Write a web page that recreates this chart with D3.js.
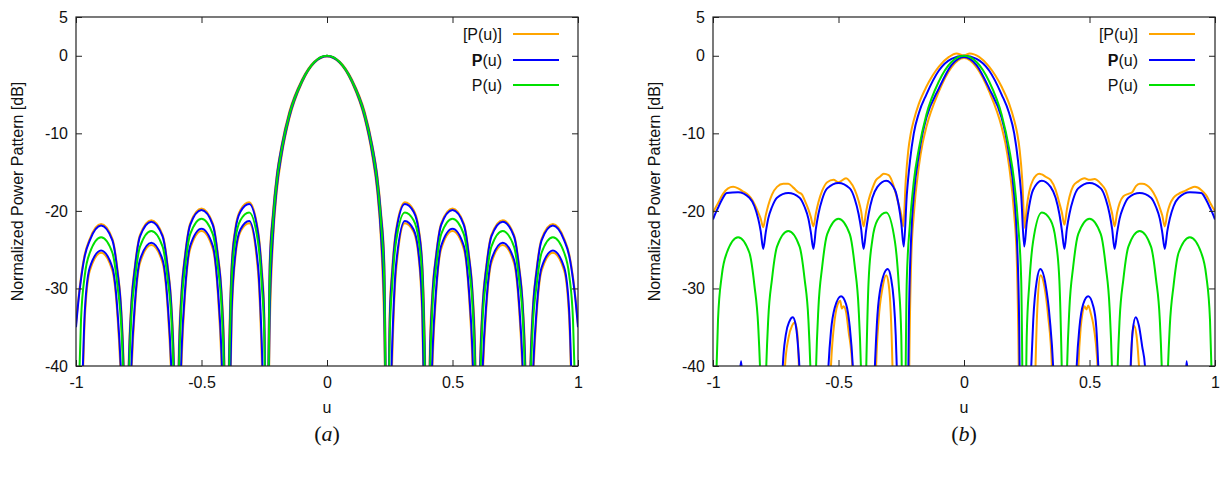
<!DOCTYPE html>
<html>
<head>
<meta charset="utf-8">
<script src="https://cdn.jsdelivr.net/npm/d3@7"></script>
<style>
body { margin: 0; background: #fff; }
svg { display: block; font-family: "Liberation Sans", Arial, sans-serif; }
</style>
</head>
<body>
<svg id="chart" width="1223" height="484"></svg>
<script>
// shared u grid (rows: lobe -0.9, -0.7, -0.5, -0.3, main, 0.3, 0.5, 0.7, 0.9)
var uGrid = [
    -1, -0.99, -0.98, -0.965, -0.945, -0.9, -0.855, -0.835, -0.82, -0.81,
    -0.8, -0.79, -0.78, -0.765, -0.745, -0.7, -0.655, -0.635, -0.62, -0.61,
    -0.6, -0.59, -0.58, -0.565, -0.545, -0.5, -0.455, -0.435, -0.42, -0.41,
    -0.4, -0.39, -0.38, -0.365, -0.345, -0.31, -0.275, -0.26, -0.25,
    -0.24, -0.228, -0.215, -0.2, -0.18, -0.15, -0.1, -0.05, 0, 0.05, 0.1, 0.15, 0.18, 0.2, 0.215, 0.228, 0.24,
    0.25, 0.26, 0.275, 0.31, 0.345, 0.365, 0.38, 0.39,
    0.4, 0.41, 0.42, 0.435, 0.455, 0.5, 0.545, 0.565, 0.58, 0.59,
    0.6, 0.61, 0.62, 0.635, 0.655, 0.7, 0.745, 0.765, 0.78, 0.79,
    0.8, 0.81, 0.82, 0.835, 0.855, 0.9, 0.945, 0.965, 0.98, 0.99, 1
];

// panel (a)
var orangeUpA = [
    -34.6, -31.2, -28.5, -25.6, -23.6, -21.7, -23.6, -27.5, -32.5, -40,
    -60, -39.5, -32, -27, -23.1, -21.2, -23.1, -27, -32, -39.5,
    -60, -37.5, -30.4, -25.5, -21.6, -19.7, -21.6, -25.5, -30.4, -37.5,
    -60, -37.5, -27, -22.2, -19.9, -18.9, -22.5, -27.4, -33,
    -55, -26.3, -20.1, -15.3, -11.4, -7.2, -3.1, -0.75, 0, -0.75, -3.1, -7.2, -11.4, -15.3, -20.1, -26.3, -55,
    -33, -27.4, -22.5, -18.9, -19.9, -22.2, -27, -37.5,
    -60, -37.5, -30.4, -25.5, -21.6, -19.7, -21.6, -25.5, -30.4, -37.5,
    -60, -39.5, -32, -27, -23.1, -21.2, -23.1, -27, -32, -39.5,
    -60, -40, -32.5, -27.5, -23.6, -21.7, -23.6, -25.6, -28.5, -31.2, -34.6
];
var blueUpA = [
    -35, -31.5, -28.8, -25.8, -23.8, -21.9, -23.8, -27.8, -33, -41,
    -60, -40.5, -32.5, -27.3, -23.3, -21.4, -23.3, -27.3, -32.5, -40.5,
    -60, -39, -31, -25.8, -21.8, -19.9, -21.8, -25.8, -31, -39,
    -60, -39, -27.5, -22.5, -20.1, -19.1, -22.8, -28, -34,
    -55, -27, -20.5, -15.6, -11.6, -7.4, -3.2, -0.8, 0, -0.8, -3.2, -7.4, -11.6, -15.6, -20.5, -27, -55,
    -34, -28, -22.8, -19.1, -20.1, -22.5, -27.5, -39,
    -60, -39, -31, -25.8, -21.8, -19.9, -21.8, -25.8, -31, -39,
    -60, -40.5, -32.5, -27.3, -23.3, -21.4, -23.3, -27.3, -32.5, -40.5,
    -60, -41, -33, -27.8, -23.8, -21.9, -23.8, -25.8, -28.8, -31.5, -35
];
var blueLowA = [
    -60, -55, -48, -33, -27.3, -25.1, -27.3, -32.8, -41.5, -53,
    -60, -52, -40.5, -31.8, -26.3, -24.1, -26.3, -31.8, -40.5, -52,
    -60, -50, -38.5, -30, -24.5, -22.3, -24.5, -30, -38.5, -50,
    -60, -50, -33, -25.5, -22.4, -21.3, -27, -37, -48,
    -60, -33, -23, -17, -12.5, -7.9, -3.4, -0.85, -0.05, -0.85, -3.4, -7.9, -12.5, -17, -23, -33, -60,
    -48, -37, -27, -21.3, -22.4, -25.5, -33, -50,
    -60, -50, -38.5, -30, -24.5, -22.3, -24.5, -30, -38.5, -50,
    -60, -52, -40.5, -31.8, -26.3, -24.1, -26.3, -31.8, -40.5, -52,
    -60, -53, -41.5, -32.8, -27.3, -25.1, -27.3, -33, -48, -55, -60
];
var orangeLowA = [
    -60, -57, -50, -34, -27.7, -25.4, -27.7, -33.5, -43, -55,
    -60, -54, -42, -32.5, -26.7, -24.4, -26.7, -32.5, -42, -54,
    -60, -52, -40, -30.6, -24.9, -22.6, -24.9, -30.6, -40, -52,
    -60, -52, -34.5, -26, -22.7, -21.6, -27.8, -39, -52,
    -60, -35, -23.8, -17.5, -12.8, -8.1, -3.5, -0.9, -0.1, -0.9, -3.5, -8.1, -12.8, -17.5, -23.8, -35, -60,
    -52, -39, -27.8, -21.6, -22.7, -26, -34.5, -52,
    -60, -52, -40, -30.6, -24.9, -22.6, -24.9, -30.6, -40, -52,
    -60, -54, -42, -32.5, -26.7, -24.4, -26.7, -32.5, -42, -54,
    -60, -55, -43, -33.5, -27.7, -25.4, -27.7, -34, -50, -57, -60
];
// nominal pattern, same in both panels
var greenNom = [
    -55, -45, -34, -28.3, -25.4, -23.4, -25.4, -29.6, -34.8, -43,
    -60, -42.5, -34, -28.8, -24.6, -22.6, -24.6, -28.8, -34, -42.5,
    -60, -41, -32.5, -27.2, -23, -21, -23, -27.2, -32.5, -41,
    -60, -41, -29, -23.7, -21.2, -20.2, -24, -29.5, -36,
    -60, -29, -21.5, -16.2, -12, -7.6, -3.3, -0.8, 0, -0.8, -3.3, -7.6, -12, -16.2, -21.5, -29, -60,
    -36, -29.5, -24, -20.2, -21.2, -23.7, -29, -41,
    -60, -41, -32.5, -27.2, -23, -21, -23, -27.2, -32.5, -41,
    -60, -42.5, -34, -28.8, -24.6, -22.6, -24.6, -28.8, -34, -42.5,
    -60, -43, -34.8, -29.6, -25.4, -23.4, -25.4, -28.3, -34, -45, -55
];

// panel (b)
var blueUpB = [
    -21.1, -20.3, -19.6, -18.6, -17.7, -17.6, -18.3, -19.4, -21, -22.6,
    -24.9, -22.8, -21, -19.5, -18.3, -17.7, -18.3, -19.5, -21, -22.8,
    -24.9, -22.3, -20.4, -18.5, -17.1, -16.4, -17.1, -18.5, -20.4, -22.3,
    -24.9, -22.5, -20.4, -18.3, -16.9, -16.1, -17.3, -19.3, -21.5,
    -24.6, -18, -13.5, -10, -7.4, -5, -1.9, -0.4, 0, -0.4, -1.9, -5, -7.4, -10, -13.5, -18, -24.6,
    -21.5, -19.3, -17.3, -16.1, -16.9, -18.3, -20.4, -22.5,
    -24.9, -22.3, -20.4, -18.5, -17.1, -16.4, -17.1, -18.5, -20.4, -22.3,
    -24.9, -22.8, -21, -19.5, -18.3, -17.7, -18.3, -19.5, -21, -22.8,
    -24.9, -22.6, -21, -19.4, -18.3, -17.6, -17.7, -18.6, -19.6, -20.3, -21.1
];
var orangeUpB = [
    [-1, -20.2], [-0.98, -19], [-0.96, -17.8], [-0.94, -17.1], [-0.92, -16.9], [-0.9, -17.1], [-0.88, -17.5],
    [-0.865, -17.8], [-0.85, -18.3], [-0.835, -19.1], [-0.82, -20.2], [-0.81, -21], [-0.8, -22.1],
    [-0.79, -20.6], [-0.78, -19.3], [-0.765, -17.9], [-0.745, -16.9], [-0.72, -16.5], [-0.7, -16.5], [-0.68, -17],
    [-0.66, -17.6], [-0.645, -17.9], [-0.635, -18.6], [-0.62, -19.8], [-0.61, -20.8], [-0.6, -22],
    [-0.59, -20.3], [-0.58, -18.9], [-0.565, -17.4], [-0.545, -16.3], [-0.52, -16], [-0.5, -16.3], [-0.47, -15.8],
    [-0.455, -16.2], [-0.435, -17.3], [-0.42, -18.7], [-0.41, -20], [-0.4, -22],
    [-0.39, -20.1], [-0.38, -18.6], [-0.365, -17.1], [-0.35, -16], [-0.335, -15.6], [-0.32, -15.2], [-0.3, -15.4],
    [-0.28, -16.8], [-0.265, -18.6], [-0.25, -20.5], [-0.242, -22],
    [-0.232, -16], [-0.222, -12.2], [-0.212, -10], [-0.2, -8.3], [-0.18, -6.2], [-0.15, -4], [-0.1, -1.4],
    [-0.06, -0.15], [-0.03, 0.3], [0, 0.05], [0.023, 0.3], [0.06, -0.15], [0.1, -1.4], [0.15, -4], [0.18, -6.2],
    [0.2, -8.3], [0.212, -10], [0.222, -12.2], [0.232, -16], [0.242, -22.2],
    [0.25, -19.5], [0.26, -17.5], [0.275, -16], [0.3, -15.2], [0.31, -15.3], [0.325, -15.6], [0.345, -16],
    [0.365, -17.3], [0.38, -19], [0.39, -20.2], [0.4, -21.8],
    [0.41, -19.8], [0.42, -18.2], [0.435, -16.8], [0.455, -16.2], [0.48, -15.8], [0.5, -16], [0.52, -15.9],
    [0.545, -16.5], [0.565, -17.4], [0.58, -19], [0.59, -20.3], [0.6, -22],
    [0.61, -20.2], [0.62, -19], [0.635, -18.1], [0.655, -17.8], [0.67, -17.6], [0.685, -16.8], [0.7, -16.5],
    [0.71, -16.5], [0.745, -17.2], [0.765, -18.3], [0.78, -19.6], [0.79, -20.6], [0.8, -22],
    [0.81, -20.3], [0.82, -19.2], [0.835, -18.3], [0.855, -17.8], [0.875, -17.5], [0.9, -17.1], [0.92, -16.9],
    [0.945, -17.3], [0.965, -18], [0.98, -18.9], [0.99, -19.5], [1, -20]
];
var blueLowB = [
    [-1, -60], [-0.9, -55], [-0.895, -42], [-0.888, -39.4], [-0.882, -42], [-0.86, -55],
    [-0.74, -55], [-0.728, -46], [-0.722, -40], [-0.71, -36], [-0.695, -34.2], [-0.682, -33.7], [-0.67, -34.8],
    [-0.66, -38], [-0.656, -40], [-0.65, -46], [-0.62, -55],
    [-0.56, -55], [-0.548, -46], [-0.54, -40], [-0.53, -35.5], [-0.515, -32.5], [-0.49, -31], [-0.47, -32],
    [-0.455, -35], [-0.443, -40], [-0.435, -46], [-0.41, -55],
    [-0.375, -55], [-0.362, -46], [-0.355, -40], [-0.345, -33.5], [-0.33, -29.5], [-0.304, -27.5], [-0.29, -28.8],
    [-0.28, -31.5], [-0.272, -36], [-0.268, -40], [-0.262, -46], [-0.25, -55],
    [-0.225, -50], [-0.22, -35], [-0.21, -23], [-0.2, -18], [-0.18, -12.8], [-0.165, -10], [-0.15, -8], [-0.1, -4.2],
    [-0.05, -1.2], [0, -0.15], [0.05, -1.2], [0.1, -4.2], [0.15, -8], [0.165, -10], [0.18, -12.8], [0.2, -18],
    [0.21, -23], [0.22, -35], [0.225, -50],
    [0.25, -55], [0.262, -46], [0.268, -40], [0.276, -34], [0.29, -29], [0.304, -27.5], [0.325, -29.5],
    [0.342, -34], [0.355, -40], [0.362, -46], [0.375, -55],
    [0.42, -55], [0.442, -46], [0.449, -40], [0.46, -35], [0.475, -32], [0.495, -31], [0.515, -32.3],
    [0.527, -35], [0.535, -40], [0.542, -46], [0.56, -55],
    [0.64, -55], [0.658, -46], [0.664, -40], [0.672, -35.5], [0.684, -33.7], [0.697, -34.8], [0.71, -37.5],
    [0.721, -40], [0.728, -46], [0.74, -55],
    [0.86, -55], [0.882, -42], [0.887, -39.4], [0.893, -42], [0.9, -55], [1, -60]
];
var orangeLowB = [
    [-1, -60], [-0.74, -60], [-0.72, -48], [-0.713, -40], [-0.7, -36.5], [-0.685, -34.8], [-0.675, -34.4],
    [-0.665, -35.5], [-0.658, -40], [-0.652, -48], [-0.63, -60],
    [-0.56, -60], [-0.538, -47], [-0.53, -40], [-0.515, -34], [-0.5, -31.8], [-0.493, -31.6], [-0.487, -32.6],
    [-0.48, -32.3], [-0.47, -33], [-0.46, -35.5], [-0.445, -40], [-0.438, -47], [-0.41, -60],
    [-0.37, -60], [-0.355, -47], [-0.35, -40], [-0.34, -34], [-0.325, -30], [-0.31, -28.3], [-0.3, -29.5],
    [-0.292, -33], [-0.285, -40], [-0.28, -48], [-0.26, -60],
    [-0.222, -55], [-0.218, -40], [-0.21, -26], [-0.2, -20.5], [-0.18, -14.3], [-0.165, -11.3], [-0.15, -9.2],
    [-0.1, -4.6], [-0.05, -1.5], [0, -0.3], [0.05, -1.5], [0.1, -4.6], [0.15, -9.2], [0.165, -11.3],
    [0.18, -14.3], [0.2, -20.5], [0.21, -26], [0.218, -40], [0.222, -55],
    [0.26, -60], [0.28, -48], [0.285, -40], [0.293, -32], [0.305, -28.3], [0.32, -29.7], [0.335, -33.5],
    [0.35, -40], [0.356, -47], [0.37, -60],
    [0.43, -60], [0.45, -47], [0.456, -40], [0.465, -35], [0.472, -33.2], [0.48, -32.3], [0.488, -32.7],
    [0.495, -32.2], [0.505, -33.2], [0.515, -34.6], [0.525, -37], [0.532, -40], [0.54, -47], [0.56, -60],
    [0.64, -60], [0.66, -47], [0.665, -40], [0.672, -35.5], [0.678, -34.8], [0.687, -36], [0.695, -39],
    [0.7, -42], [0.71, -60], [1, -60]
];

var xTicks = [-1, -0.5, 0, 0.5, 1];
var yTicks = [5, 0, -10, -20, -30, -40];
var legendLabels = ["[P(u)]", "P(u)", "P(u)"];

var ORANGE = "#ffa500", BLUE = "#0000ff", GREEN = "#00e000";

function onGrid(values) {
    return uGrid.map(function (u, i) { return [u, values[i]]; });
}

function draw_panel(svg, box, series, tag, legendEnd) {
    var xScale = d3.scaleLinear().domain([-1, 1]).range([box.left, box.right]);
    var yScale = d3.scaleLinear().domain([-40, 5]).range([box.bottom, box.top]);

    svg.append("clipPath").attr("id", "clip-" + tag)
        .append("rect")
        .attr("x", box.left).attr("y", box.top)
        .attr("width", box.right - box.left).attr("height", box.bottom - box.top);

    var line = d3.line()
        .x(function (d) { return xScale(d[0]); })
        .y(function (d) { return yScale(d[1]); })
        .curve(d3.curveMonotoneX);

    var plot = svg.append("g").attr("clip-path", "url(#clip-" + tag + ")");
    series.forEach(function (s) {
        plot.append("path")
            .datum(s.points)
            .attr("fill", "none")
            .attr("stroke", s.color)
            .attr("stroke-width", 2)
            .attr("stroke-linejoin", "round")
            .attr("d", line);
    });

    var fmt = function (d) { return String(d); };
    var axes = [
        { ax: d3.axisBottom(xScale).tickValues(xTicks).tickFormat(fmt).tickPadding(11), t: "translate(0," + box.bottom + ")" },
        { ax: d3.axisTop(xScale).tickValues(xTicks).tickFormat(""), t: "translate(0," + box.top + ")" },
        { ax: d3.axisLeft(yScale).tickValues(yTicks).tickFormat(fmt).tickPadding(8), t: "translate(" + box.left + ",0)" },
        { ax: d3.axisRight(yScale).tickValues(yTicks).tickFormat(""), t: "translate(" + box.right + ",0)" }
    ];
    axes.forEach(function (a) {
        var g = svg.append("g")
            .attr("transform", a.t)
            .call(a.ax.tickSize(-6));
        g.select(".domain").remove();
        g.attr("font-size", 16)
            .attr("font-family", "'Liberation Sans', Arial, sans-serif")
            .attr("color", "#222");
        g.selectAll(".tick text").attr("fill", "#111");
    });

    svg.append("rect")
        .attr("x", box.left).attr("y", box.top)
        .attr("width", box.right - box.left).attr("height", box.bottom - box.top)
        .attr("fill", "none").attr("stroke", "#222").attr("stroke-width", 1.2);

    var cx = (box.left + box.right) / 2;
    svg.append("text")
        .attr("x", cx).attr("y", 413)
        .attr("text-anchor", "middle").attr("font-size", 16).attr("fill", "#111")
        .text("u");

    svg.append("text")
        .attr("transform", "translate(" + (box.left - 59) + "," + ((box.top + box.bottom) / 2) + ") rotate(-90)")
        .attr("text-anchor", "middle").attr("font-size", 16).attr("fill", "#111")
        .attr("dy", "0.35em")
        .text("Normalized Power Pattern [dB]");

    // legend
    var legendColors = [ORANGE, BLUE, GREEN];
    var rowY = [34, 60, 85];
    legendLabels.forEach(function (lab, i) {
        var t = svg.append("text")
            .attr("x", legendEnd).attr("y", rowY[i])
            .attr("dy", "0.35em")
            .attr("text-anchor", "end").attr("font-size", 16).attr("fill", "#111");
        if (i === 1) {
            t.append("tspan").attr("font-weight", "bold").text(lab.charAt(0));
            t.append("tspan").text(lab.slice(1));
        } else {
            t.text(lab);
        }
        svg.append("line")
            .attr("x1", legendEnd + 11).attr("x2", legendEnd + 57)
            .attr("y1", rowY[i]).attr("y2", rowY[i])
            .attr("stroke", legendColors[i]).attr("stroke-width", 2);
    });

    var cap = svg.append("text")
        .attr("x", cx).attr("y", 441)
        .attr("text-anchor", "middle")
        .attr("font-family", "'Liberation Serif', 'DejaVu Serif', serif")
        .attr("font-size", 22).attr("fill", "#111");
    cap.append("tspan").text("(");
    cap.append("tspan").attr("font-style", "italic").text(tag);
    cap.append("tspan").text(")");
}

var svg = d3.select("#chart");
svg.append("rect").attr("width", 1223).attr("height", 484).attr("fill", "#fff");

draw_panel(svg, { left: 76, right: 578, top: 17, bottom: 366 }, [
    { points: onGrid(orangeUpA), color: ORANGE },
    { points: onGrid(orangeLowA), color: ORANGE },
    { points: onGrid(blueUpA), color: BLUE },
    { points: onGrid(blueLowA), color: BLUE },
    { points: onGrid(greenNom), color: GREEN }
], "a", 502);

draw_panel(svg, { left: 713, right: 1215, top: 17, bottom: 366 }, [
    { points: orangeUpB, color: ORANGE },
    { points: orangeLowB, color: ORANGE },
    { points: onGrid(blueUpB), color: BLUE },
    { points: blueLowB, color: BLUE },
    { points: onGrid(greenNom), color: GREEN }
], "b", 1138);
</script>
</body>
</html>
